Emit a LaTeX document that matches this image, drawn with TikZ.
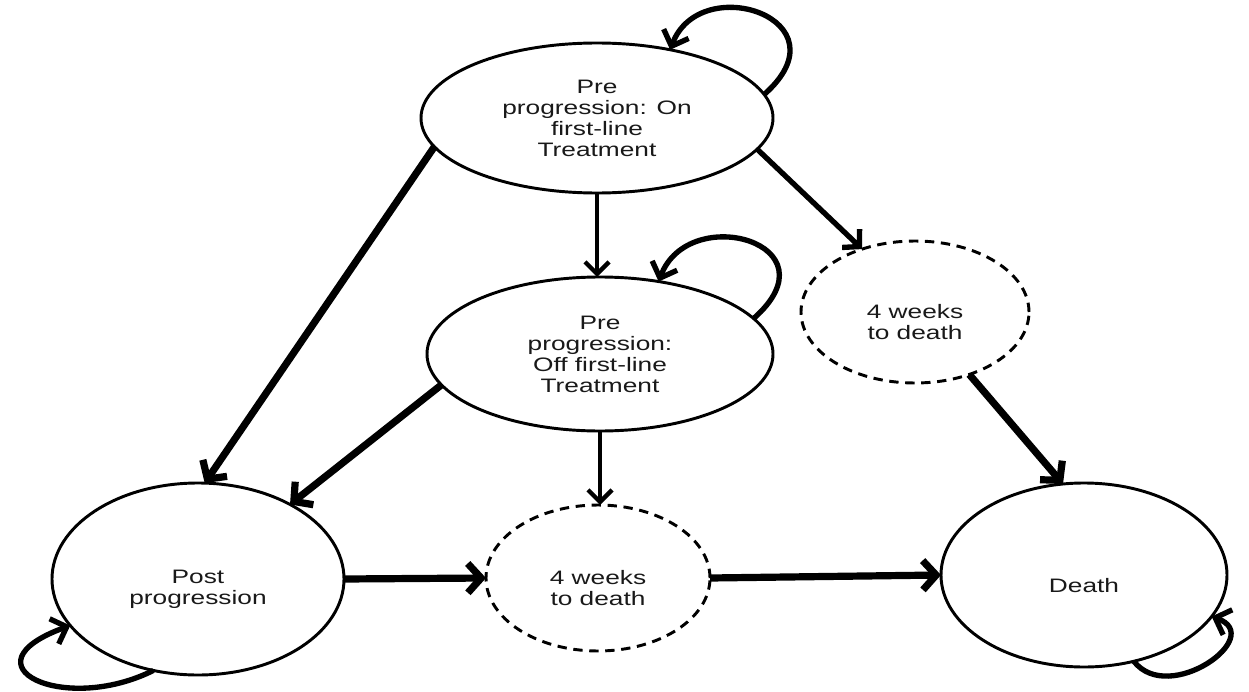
\documentclass[tikz,border=0pt]{standalone}
\usepackage{fontspec}
\newfontfamily\labfont[FakeStretch=1.35]{Liberation Sans}
\usetikzlibrary{arrows.meta,shapes.geometric}
\begin{document}
\begin{tikzpicture}[x=0.75pt,y=0.75pt,
  state/.style={ellipse, draw=black, line width=2.2pt, inner sep=0pt, outer sep=0pt, fill=white},
  dstate/.style={state, dash pattern=on 7pt off 5pt},
  lab/.style={font=\labfont\fontsize{14.6pt}{15.75pt}\selectfont, align=center, text=black!90, inner sep=0pt},
  bigarrow/.style={line width=5.4pt, -{Straight Barb[length=10pt,width=22pt]}},
  medarrow/.style={line width=4pt, -{Straight Barb[length=9pt,width=19pt]}},
  thinarrow/.style={line width=3.2pt, -{Straight Barb[length=9pt,width=18pt]}},
  selfarc/.style={line width=4pt, -{Straight Barb[length=10pt,width=20pt]}}]
\useasboundingbox (0,0) rectangle (1249,-692);
% states
\node[state, minimum width=264pt, minimum height=112.5pt] (top) at (597,-118) {};
\node[state, minimum width=259.5pt, minimum height=115.5pt] (mid) at (600,-354) {};
\node[dstate, minimum width=171pt, minimum height=106.5pt] (right) at (915,-312) {};
\node[dstate, minimum width=168pt, minimum height=109.5pt] (bot) at (598,-578) {};
\node[state, minimum width=219pt, minimum height=144pt] (post) at (198,-579) {};
\node[state, minimum width=214.5pt, minimum height=138pt] (death) at (1084,-575) {};
% labels
\node[lab] (topT) at (top.center) {Pre\\progression: On\\first-line\\Treatment};
\node[lab] (midT) at (mid.center) {Pre\\progression:\\Off first-line\\Treatment};
\node[lab] (rightT) at ([yshift=-7.5pt]right.center) {4 weeks\\to death};
\node[lab] (botT) at ([yshift=-7.5pt]bot.center) {4 weeks\\to death};
\node[lab] (postT) at ([yshift=-7.5pt]post.center) {Post\\progression};
\node[lab] (deathT) at ([yshift=-8pt]death.center) {Death};
% transitions
\draw[bigarrow] (top.190) -- (post.86);
\draw[bigarrow] (mid.191) -- (post.39);
\draw[thinarrow] (top.south) -- (top.south |- mid.north);
\draw[medarrow] (top.349) -- (right.130);
\draw[thinarrow] (mid.south) -- (mid.south |- bot.north);
\draw[bigarrow] (right.311) -- (death.103);
\draw[bigarrow] (post.east) -- (bot.west);
\draw[bigarrow] (bot.east) -- (death.west);
% self loops
\draw[selfarc] (top.8) .. controls +(85,75) and +(30,80) .. (top.43);
\draw[selfarc] (mid.13) .. controls +(85,75) and +(30,80) .. (mid.51);
\draw[selfarc] (post.244) .. controls +(-90,-45) and +(-110,-40) .. (post.200);
\draw[selfarc] (death.300) .. controls +(35,-45) and +(55,-20) .. (death.342);
\end{tikzpicture}
\end{document}
